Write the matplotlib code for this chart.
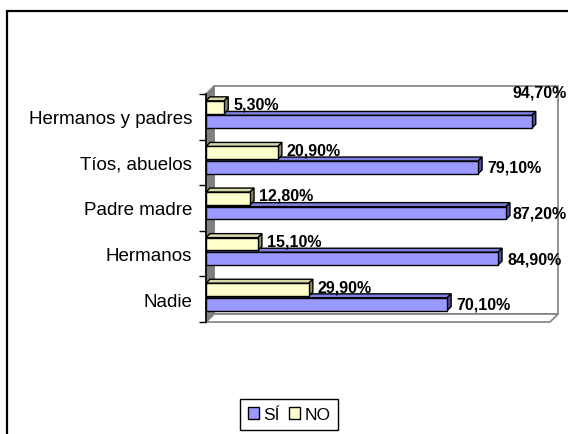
import matplotlib
matplotlib.use("Agg")
import matplotlib.pyplot as plt
from matplotlib.patches import Polygon, Rectangle, Patch

plt.rcParams['font.family'] = ['Liberation Sans', 'DejaVu Sans']

# ---- data ----
categories = ["Nadie", "Hermanos", "Padre madre", "Tíos, abuelos", "Hermanos y padres"]
si_values = [70.1, 84.9, 87.2, 79.1, 94.7]
no_values = [29.9, 15.1, 12.8, 20.9, 5.3]
series_names = ["SÍ", "NO"]

def fmt(v):
    return f"{v:.2f}".replace(".", ",") + "%"

W, H = 568, 435
fig = plt.figure(figsize=(W / 100, H / 100), dpi=100)

# front plane of the 3-D plot (pixels)
px_left, px_right, px_top, px_bottom = 206, 550, 95, 323
ax = fig.add_axes([px_left / W, 1 - px_bottom / H,
                   (px_right - px_left) / W, (px_bottom - px_top) / H])
xmax = 100.0
n = len(categories)
ax.set_xlim(0, xmax)
ax.set_ylim(-0.5, n - 0.5)
for s in ax.spines.values():
    s.set_visible(False)
ax.set_xticks([])

ux = (px_right - px_left) / xmax          # px per x unit
uy = (px_bottom - px_top) / n             # px per y unit

def dxd(p):
    return p / ux

def dyd(p):
    return p / uy

# walls (depth 8 px)
wd = 8
bx, by = dxd(wd), dyd(wd)
grey = "#808080"
back = Polygon([(bx, -0.5 + by), (xmax + bx, -0.5 + by), (xmax + bx, n - 0.5 + by), (bx, n - 0.5 + by)],
               closed=True, facecolor="white", edgecolor=grey, lw=1.2, clip_on=False, zorder=1)
floor = Polygon([(0, -0.5), (xmax, -0.5), (xmax + bx, -0.5 + by), (bx, -0.5 + by)],
                closed=True, facecolor="white", edgecolor=grey, lw=1.2, clip_on=False, zorder=1)
side = Polygon([(0, -0.5), (bx, -0.5 + by), (bx, n - 0.5 + by), (0, n - 0.5)],
               closed=True, facecolor="#808080", edgecolor=grey, lw=1.0, clip_on=False, zorder=1)
for p in (back, floor, side):
    ax.add_patch(p)
ax.plot([0, 0], [-0.5, n - 0.5], color="black", lw=1.2, clip_on=False, zorder=2)

# ticks / labels
ys = list(range(n))
ax.set_yticks(ys)
ax.set_yticklabels(categories, fontsize=13.5)
ax.tick_params(axis="y", which="major", length=0, pad=10)
ax.set_yticks([i - 0.5 for i in range(n + 1)], minor=True)
ax.tick_params(axis="y", which="minor", length=5, width=1.0, color="black", direction="out")

# bars with 3-D faces
bd = 4
bdx, bdy = dxd(bd), dyd(bd)
bar_h = 0.28
si_off = -0.25
no_off = 0.07

styles = {
    "SÍ": dict(front="#9999FF", top="#7f7fdd", right="#505099"),
    "NO": dict(front="#FFFFCC", top="#d8d8a8", right="#8c8c5c"),
}

def draw_bars(values, off, st, z):
    bars = ax.barh([y + off for y in ys], values, height=bar_h, align="edge",
                   color=st["front"], edgecolor="black", lw=1.0, zorder=z + 0.2)
    for y, v in zip(ys, values):
        y0 = y + off
        y1 = y0 + bar_h
        top = Polygon([(0, y1), (v, y1), (v + bdx, y1 + bdy), (bdx, y1 + bdy)], closed=True,
                      facecolor=st["top"], edgecolor="black", lw=1.0, zorder=z, clip_on=False)
        right = Polygon([(v, y0), (v + bdx, y0 + bdy), (v + bdx, y1 + bdy), (v, y1)], closed=True,
                        facecolor=st["right"], edgecolor="black", lw=1.0, zorder=z, clip_on=False)
        ax.add_patch(top)
        ax.add_patch(right)
    return bars

draw_bars(si_values, si_off, styles["SÍ"], 3)
draw_bars(no_values, no_off, styles["NO"], 5)

# value labels
lab_gap = dxd(9)
fs_val = 11.5
texts = []
for y, v in zip(ys, si_values):
    yc = y + si_off + bar_h / 2
    if v > 90:
        ax.text(0.998, 1 - 93 / H, fmt(v), transform=fig.transFigure, ha="right", va="center",
                fontsize=fs_val, fontweight="bold", zorder=10)
    else:
        texts.append(ax.text(v + lab_gap, yc, fmt(v), ha="left", va="center",
                             fontsize=fs_val, fontweight="bold", zorder=10, clip_on=False))
for y, v in zip(ys, no_values):
    yc = y + no_off + bar_h / 2
    texts.append(ax.text(v + lab_gap, yc + dyd(3), fmt(v), ha="left", va="center",
                         fontsize=fs_val, fontweight="bold", zorder=10, clip_on=False))

# keep labels inside the figure
renderer = fig.canvas.get_renderer()
for t in texts:
    bb = t.get_window_extent(renderer=renderer)
    if bb.x1 > W - 1:
        x, yv = t.get_position()
        t.set_position((x - dxd(bb.x1 - (W - 1)), yv))

# legend
handles = [Patch(facecolor=styles[s]["front"], edgecolor="black", lw=1.0) for s in series_names]
leg = fig.legend(handles, series_names, loc="center", bbox_to_anchor=(289 / W, 1 - 415.5 / H),
                 ncol=2, fontsize=12.5, frameon=True, fancybox=False, framealpha=1,
                 edgecolor="black", handlelength=0.65, handleheight=0.65, handletextpad=0.25,
                 columnspacing=0.5, borderpad=0.45)
leg.get_frame().set_linewidth(1.0)

# outer border
fig.patches.append(Rectangle((7 / W, -0.2), 1.5, 1.2 - 12 / H, transform=fig.transFigure,
                             fill=False, edgecolor="black", lw=1.6))

fig.savefig("out.png", dpi=100)
